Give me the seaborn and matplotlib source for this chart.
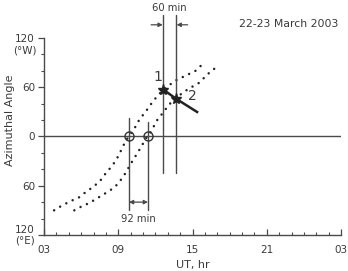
import matplotlib
matplotlib.use("Agg")
import matplotlib.pyplot as plt
import seaborn as sns
import pandas as pd
import numpy as np
from matplotlib.ticker import MultipleLocator

# ---- data ----
curve1_ut = [3.82, 4.47, 5.12, 5.86, 6.35, 6.92, 7.49, 7.98, 8.55, 8.96, 9.29, 9.61, 9.86,
             10.35, 10.76, 11.16, 11.57, 11.98, 12.39, 12.8, 13.61, 14.43, 15.24, 15.73]
curve1_az = [-90, -84, -79, -74, -68, -62, -55, -45, -35, -25, -15, -5, 0,
             11, 22, 29, 38, 46, 53, 59, 68, 74, 80, 87]
curve2_ut = [5.45, 5.94, 6.67, 7.33, 7.98, 8.71, 9.2, 9.61, 10.02, 10.43, 10.84, 11.24, 11.41,
             11.82, 12.22, 12.63, 13.04, 13.61, 14.1, 14.67, 15.49, 16.31, 17.12]
curve2_az = [-90, -86, -81, -75, -69, -62, -53, -44, -33, -23, -13, -2, 0,
             11, 22, 29, 38, 46, 52, 58, 65, 77, 87]

zero_cross_ut = [9.86, 11.4]          # open circles (92 min apart)
star_ut = [12.64, 13.66]              # stars 1 and 2 (60 min apart)
star_az = [57, 46]
track_end_ut = 15.45
track_end_az = 29

xtick_vals = [3, 9, 15, 21, 27]
xtick_labels = ["03", "09", "15", "21", "03"]
ytick_vals = [-120, -60, 0, 60, 120]
ytick_labels = ["120\n(°E)", "60", "0", "60", "120"]

# ---- style ----
sns.set_style("ticks")
plt.rcParams["font.family"] = ["DejaVu Sans"]
txt = "#3a3a3a"
ln = "#4a4a4a"

fig = plt.figure(figsize=(3.48, 2.71), dpi=100)
ax = fig.add_axes([0.1264, 0.133, 0.854, 0.727])

df = pd.concat([
    pd.DataFrame({"UT": curve1_ut, "Az": curve1_az, "curve": "1"}),
    pd.DataFrame({"UT": curve2_ut, "Az": curve2_az, "curve": "2"}),
])
for name, sub in df.groupby("curve"):
    sns.lineplot(data=sub, x="UT", y="Az", sort=False, ax=ax, color="#222222",
                 linewidth=1.8, linestyle=(0, (0.01, 2.8)), dash_capstyle="round",
                 legend=False)

# zero line
ax.axhline(0, color=ln, lw=1.0, zorder=1)

# vertical lines at zero crossings
for u, top in zip(zero_cross_ut, [22, 18]):
    ax.plot([u, u], [top, -89], color=ln, lw=1.0, zorder=2)
ax.plot(zero_cross_ut, [0, 0], linestyle="none", marker="o", ms=6.5,
        mfc="none", mec="#333333", mew=1.0, zorder=3)

# vertical lines at stars (extend above the axes)
for u in star_ut:
    ax.plot([u, u], [148, -44], color=ln, lw=1.0, clip_on=False, zorder=2)

# track line and stars
ax.plot([star_ut[0], star_ut[1], track_end_ut], [star_az[0], star_az[1], track_end_az],
        color="#222222", lw=1.8, solid_capstyle="butt", zorder=4)
ax.plot(star_ut, star_az, linestyle="none", marker="*", ms=8, color="#222222", zorder=5)
ax.text(12.2, 72, "1", fontsize=10, color=txt, ha="center", va="center")
ax.text(15.0, 49, "2", fontsize=10, color=txt, ha="center", va="center")

# 60 min arrows
arr = dict(arrowstyle="-|>", color=ln, lw=0.9, mutation_scale=6, shrinkA=0, shrinkB=0)
ax.annotate("", xy=(star_ut[0] - 0.05, 136), xytext=(11.65, 136), arrowprops=arr,
            annotation_clip=False)
ax.annotate("", xy=(star_ut[1] + 0.05, 136), xytext=(14.6, 136), arrowprops=arr,
            annotation_clip=False)
ax.text(13.15, 156, "60 min", fontsize=7.2, color=txt, ha="center", va="center", clip_on=False)

# 92 min arrow
arr2 = dict(arrowstyle="<|-|>", color=ln, lw=0.9, mutation_scale=6, shrinkA=0, shrinkB=0)
ax.annotate("", xy=(zero_cross_ut[0], -80), xytext=(zero_cross_ut[1], -80), arrowprops=arr2)
ax.text(10.63, -100, "92 min", fontsize=7.2, color=txt, ha="center", va="center")

# date label
ax.text(22.75, 137, "22-23 March 2003", fontsize=7.8, color=txt, ha="center", va="center",
        clip_on=False)

# axes
ax.set_xlim(3, 27)
ax.set_ylim(-120, 120)
ax.set_xticks(xtick_vals)
ax.set_xticklabels(xtick_labels)
ax.set_yticks(ytick_vals)
ax.set_yticklabels(ytick_labels)
ax.xaxis.set_minor_locator(MultipleLocator(1))
ax.yaxis.set_minor_locator(MultipleLocator(20))
ax.tick_params(axis="x", which="major", direction="in", length=4, width=0.9, colors=ln,
               labelcolor=txt, labelsize=7.5, pad=7.5)
ax.tick_params(axis="x", which="minor", direction="in", length=2, width=0.8, colors=ln)
ax.tick_params(axis="y", which="major", direction="out", length=4, width=0.9, colors=ln,
               labelcolor=txt, labelsize=7.5, pad=2.5)
ax.tick_params(axis="y", which="minor", direction="out", length=2.5, width=0.8, colors=ln)
for lab in ax.get_yticklabels():
    if "\n" in lab.get_text():
        lab.set_va("center")
        lab.set_linespacing(1.05)
ax.text(-0.025, 0.935, "(°W)", transform=ax.transAxes, fontsize=7.5, color=txt,
        ha="right", va="center")

sns.despine(ax=ax, top=True, right=True)
for s in ["left", "bottom"]:
    ax.spines[s].set_color(ln)
    ax.spines[s].set_linewidth(1.0)

ax.set_xlabel("UT, hr", fontsize=8, color=txt, labelpad=3)
ax.set_ylabel("Azimuthal Angle", fontsize=8, color=txt)
ax.yaxis.set_label_coords(-0.098, 0.58)

fig.savefig("out.png", dpi=100)
